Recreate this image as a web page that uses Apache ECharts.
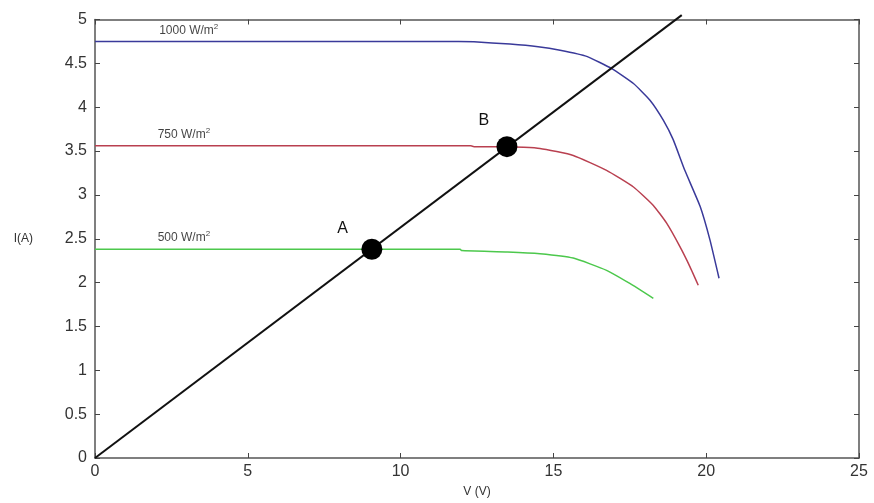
<!DOCTYPE html>
<html><head><meta charset="utf-8">
<script src="https://cdn.jsdelivr.net/npm/echarts@6/dist/echarts.min.js"></script>
<style>html,body{margin:0;padding:0;background:#fff}#c{width:874px;height:503px}</style>
</head><body><div id="c"></div>
<script>
// I-V curves at three irradiance levels
const curve1000 = [[0,4.75],[11.9,4.75],[12.4,4.745],[13.58,4.72],[14.5,4.69],[15.22,4.65],[16.09,4.58],[16.91,4.44],[17.62,4.27],[18.16,4.08],[18.6,3.85],[18.92,3.63],[19.3,3.28],[19.8,2.87],[20.12,2.49],[20.42,2.05]];
const curve750 = [[0,3.56],[12.3,3.56],[12.4,3.55],[13.5,3.55],[14.56,3.53],[15.65,3.45],[16.74,3.28],[17.62,3.09],[18.27,2.88],[18.7,2.68],[19.14,2.41],[19.47,2.18],[19.74,1.97]];
const curve500 = [[0,2.38],[11.95,2.38],[12.0,2.365],[13.5,2.35],[14.56,2.33],[15.65,2.28],[16.74,2.14],[17.5,1.99],[18.27,1.82]];
const loadLine = [[0,0],[19.2,5.05]];
const operatingPoints = [[9.06,2.38,'A'],[13.48,3.55,'B']];
const pointLabelOffsets = [[-24,-18],[-18,-24]];
const curveLabels = [[2.1,4.87,'1000'],[2.05,3.69,'750'],[2.05,2.51,'500']];
const xTicks = [0,5,10,15,20,25];
const yTicks = [0,0.5,1,1.5,2,2.5,3,3.5,4,4.5,5];

const chart = echarts.init(document.getElementById('c'));
const axisLineStyle = {color:'#555', width:1.5};
const common = {min:0, axisTick:{show:true,inside:true,length:5,lineStyle:{color:'#444'}}, splitLine:{show:false}, axisLine:{show:true,onZero:false,lineStyle:axisLineStyle}};
chart.setOption({
  animation:false,
  grid:{left:95,right:15,top:19.5,bottom:45},
  xAxis:[
    Object.assign({type:'value',max:25,interval:5,position:'bottom',name:'V (V)',nameLocation:'middle',nameGap:28,
      nameTextStyle:{fontSize:12,color:'#333',fontFamily:'Liberation Sans'},
      axisLabel:{fontSize:16,color:'#333',fontFamily:'Liberation Sans',margin:6}},common),
    Object.assign({type:'value',max:25,interval:5,position:'top',axisLabel:{show:false}},common)
  ],
  yAxis:[
    Object.assign({type:'value',max:5,interval:0.5,position:'left',name:'I(A)',nameLocation:'middle',nameRotate:0,nameGap:62,
      nameTextStyle:{fontSize:12,color:'#333',fontFamily:'Liberation Sans'},
      axisLabel:{fontSize:16,color:'#333',fontFamily:'Liberation Sans',margin:8}},common),
    Object.assign({type:'value',max:5,interval:0.5,position:'right',axisLabel:{show:false}},common)
  ],
  series:[
    {type:'line',data:curve1000,symbol:'none',smooth:0.15,lineStyle:{color:'#3a3a9a',width:1.5}},
    {type:'line',data:curve750,symbol:'none',smooth:0.15,lineStyle:{color:'#b94050',width:1.5}},
    {type:'line',data:curve500,symbol:'none',smooth:0.15,lineStyle:{color:'#4cc84c',width:1.5}},
    {type:'line',data:loadLine,symbol:'none',clip:false,lineStyle:{color:'#111',width:2}},
    {type:'scatter',symbolSize:21,itemStyle:{color:'#000',opacity:1},z:5,
      data:operatingPoints.map((d,i)=>({value:d,label:{position:pointLabelOffsets[i]}})),
      label:{show:true,formatter:p=>p.data.value[2],fontSize:16,color:'#111',fontFamily:'Liberation Sans'}},
    {type:'scatter',data:curveLabels,symbolSize:0,silent:true,
      label:{show:true,position:'right',distance:0,formatter:p=>'{t|'+p.data[2]+' W/m}{s|2}',
        rich:{t:{fontSize:12,color:'#111',fontFamily:'Liberation Sans'},s:{fontSize:8,color:'#111',verticalAlign:'top',padding:[0,0,8,0],fontFamily:'Liberation Sans'}}}}
  ]
});
</script></body></html>
